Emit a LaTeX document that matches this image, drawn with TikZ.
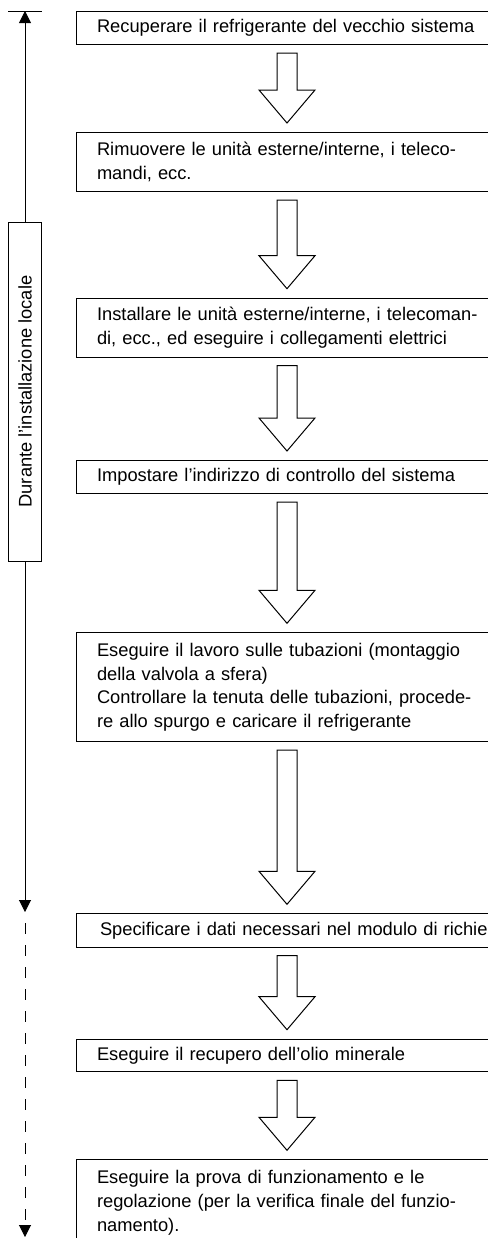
\documentclass[tikz,border=0pt]{standalone}
\usepackage{fontspec}
\setmainfont{Liberation Sans}
\usetikzlibrary{positioning,calc,arrows.meta}
\newlength{\jwidth}
\setlength{\jwidth}{368bp}
\newcommand{\jline}[1]{\makebox[\jwidth][s]{#1}}

\begin{document}
\begin{tikzpicture}[x=1bp, y=-1bp,
  every node/.style={font=\fontsize{18.3bp}{23.6bp}\selectfont}]

    \tikzstyle{stepbox}=[
      draw,
      line width=1bp,
      anchor=north west,
      align=left,
      text width=400bp,
      inner xsep=20.5bp,
      inner ysep=0pt
    ]
    \tikzstyle{phasebox}=[
      draw,
      line width=1bp,
      minimum width=339bp,
      minimum height=33bp,
      inner sep=0pt
    ]
    \tikzstyle{hollow}=[
      draw,
      line width=1bp,
      to path={
        ($(\tikztostart.south -| spine)+(-10,8)$) -- ($(\tikztostart.south -| spine)+(10,8)$)
        -- ($(\tikztotarget.north -| spine)+(10,-42)$) -- ($(\tikztotarget.north -| spine)+(28,-42)$)
        -- ($(\tikztotarget.north -| spine)+(0,-9)$) -- ($(\tikztotarget.north -| spine)+(-28,-42)$)
        -- ($(\tikztotarget.north -| spine)+(-10,-42)$) -- cycle}
    ]
    \tikzstyle{tip}=[-{Triangle[width=12bp,length=12bp]}, line width=1bp]

    \useasboundingbox (0,0) rectangle (488,1238);
    \clip (0,0) rectangle (488,1238);

    % --- Steps column ---
    \coordinate (spine) at (287,0);
    \node[stepbox, minimum height=33bp] (recover) at (76,11) {Recuperare il refrigerante del vecchio sistema};
    \node[stepbox, minimum height=59bp] (remove) at (76,132) {\jline{Rimuovere le unità esterne/interne, i teleco-}\\ mandi, ecc.};
    \node[stepbox, minimum height=59bp] (install) at (76,297.7) {\jline{Installare le unità esterne/interne, i telecoman-}\\ di, ecc., ed eseguire i collegamenti elettrici};
    \node[stepbox, minimum height=33bp] (address) at (76,460) {Impostare l’indirizzo di controllo del sistema};
    \node[stepbox, minimum height=108.7bp] (piping) at (76,632.3) {\jline{Eseguire il lavoro sulle tubazioni (montaggio}\\ della valvola a sfera)\\ \jline{Controllare la tenuta delle tubazioni, procede-}\\ re allo spurgo e caricare il refrigerante};
    \node[stepbox, minimum height=33.4bp] (request) at (76,913.3) {\hspace*{3bp}Specificare i dati necessari nel modulo di richie};
    \node[stepbox, minimum height=32.6bp] (oil) at (76,1038.7) {Eseguire il recupero dell’olio minerale};
    \node[stepbox, minimum height=86bp] (testrun) at (76,1159.3) {\jline{Eseguire la prova di funzionamento e le}\\ \jline{regolazione (per la verifica finale del funzio-}\\ namento).};

    % --- Hollow arrows ---
    \draw[hollow] (recover) to (remove);
    \draw[hollow] (remove) to (install);
    \draw[hollow] (install) to (address);
    \draw[hollow] (address) to (piping);
    \draw[hollow] (piping) to (request);
    \draw[hollow] (request) to (oil);
    \draw[hollow] (oil) to (testrun);

    % --- Phase bracket ---
    \coordinate (barl) at (8,11);
    \coordinate (barr) at (42,11);
    \coordinate (topend) at (25,11);
    \coordinate (phaseend) at (25,912);
    \coordinate (finalend) at (25,1237);
    \node[phasebox, rotate=90] (phase) at (25,391.5) {Durante l’installazione locale};

    \draw[line width=1bp] (barl) -- (barr);
    \draw[tip] (phase) -- (topend);
    \draw[tip] (phase) -- (phaseend);
    \draw[tip, dash pattern=on 11bp off 11bp, dash phase=11bp] (phaseend) -- (finalend);

  \end{tikzpicture}
\end{document}
